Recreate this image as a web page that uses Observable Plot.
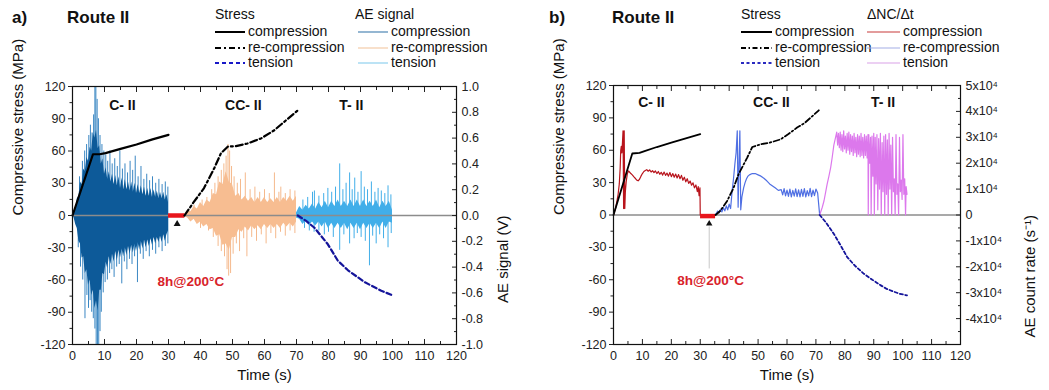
<!DOCTYPE html>
<html>
<head>
<meta charset="utf-8">
<script src="https://cdn.jsdelivr.net/npm/d3@7"></script>
<script src="https://cdn.jsdelivr.net/npm/@observablehq/plot@0.6"></script>
<style>
  html,body{margin:0;padding:0;background:#fff;}
  #wrap{position:relative;width:1049px;height:390px;overflow:hidden;font-family:"Liberation Sans",Arial,Helvetica,sans-serif;color:#111;}
  .t{position:absolute;white-space:nowrap;line-height:1;}
  .pl{font-size:17px;font-weight:bold;}
  .lg{font-size:14px;}
  .ls{position:absolute;}
  .chart{position:absolute;top:70px;}
  .chart svg{overflow:visible;}
</style>
</head>
<body>
<div id="wrap"></div>
<script>
// ---------------- data ----------------
const xMajor = [0,10,20,30,40,50,60,70,80,90,100,110,120];
const xMinor = [5,15,25,35,45,55,65,75,85,95,105,115];
const yMajor = [-120,-90,-60,-30,0,30,60,90,120];
const yMinor = [-105,-75,-45,-15,15,45,75,105];
const aeMajorV = [-1,-0.8,-0.6,-0.4,-0.2,0,0.2,0.4,0.6,0.8,1];
const aeMinorV = [-0.9,-0.7,-0.5,-0.3,-0.1,0.1,0.3,0.5,0.7,0.9];
const rateMajor = [-40000,-30000,-20000,-10000,0,10000,20000,30000,40000,50000];
const rateMinor = [-50000,-45000,-35000,-25000,-15000,-5000,5000,15000,25000,35000,45000];

// Panel a: stress (t, MPa)
const stressCompA = [[0,0],[6.4,57],[8.5,57],[10.3,58],[15,62],[20,66],[25,70.8],[30,75]];
const stressRecompA = [[35,0],[37.7,11.7],[41.1,25.5],[44.3,44],[46.4,58],[48.5,64],[51.1,64.6],[54.7,67],[58.9,71.7],[63.1,79.4],[67.3,90],[70.4,97.8]];
const stressTensA = [[70.4,0],[73,-5],[75.6,-11.4],[79.8,-26.8],[82.9,-42],[86.1,-51],[91.3,-62],[96.5,-70],[100.2,-74.5]];

// Panel a: AE signal envelopes (t, upper V, lower V)
const aeCompA = [[0,0,0],[0.5,0.03,-0.02],[1,0.05,-0.07],[1.5,0.13,-0.1],[2,0.15,-0.2],[2.5,0.26,-0.22],[3,0.24,-0.33],[3.5,0.36,-0.32],[4,0.34,-0.45],[4.5,0.45,-0.42],[5,0.42,-0.54],[5.5,0.53,-0.5],[6,0.5,-0.62],[6.5,0.64,-0.58],[7,0.6,-0.72],[7.5,0.66,-0.66],[8,0.52,-0.74],[8.5,0.54,-0.58],[9,0.4,-0.58],[9.5,0.44,-0.45],[10,0.32,-0.46],[10.5,0.37,-0.36],[11,0.28,-0.41],[11.5,0.34,-0.32],[12,0.26,-0.38],[12.5,0.32,-0.3],[13,0.24,-0.36],[13.5,0.31,-0.28],[14,0.23,-0.35],[14.5,0.3,-0.27],[15,0.21,-0.33],[15.5,0.29,-0.26],[16,0.2,-0.32],[16.5,0.28,-0.25],[17,0.2,-0.31],[17.5,0.26,-0.24],[18,0.19,-0.3],[18.5,0.26,-0.23],[19,0.18,-0.29],[19.5,0.25,-0.22],[20,0.17,-0.28],[20.5,0.24,-0.21],[21,0.17,-0.27],[21.5,0.23,-0.2],[22,0.16,-0.26],[22.5,0.22,-0.19],[23,0.15,-0.25],[23.5,0.21,-0.19],[24,0.15,-0.24],[24.5,0.21,-0.18],[25,0.14,-0.23],[25.5,0.2,-0.17],[26,0.14,-0.22],[26.5,0.19,-0.17],[27,0.13,-0.21],[27.5,0.18,-0.16],[28,0.13,-0.21],[28.5,0.18,-0.15],[29,0.12,-0.2],[29.5,0.16,-0.15],[30,0.1,-0.12]];
const aeCompASpikes = [[2.2,0.3],[3.1,0.42],[3.8,0.5],[4.4,0.55],[5.1,0.62],[5.6,0.7],[6.1,0.64],[6.6,0.78],[7.0,1.0],[7.3,1.0],[7.7,0.9],[8.1,0.75],[8.6,0.62],[9.2,0.55],[9.8,0.5],[10.4,0.47],[11.0,0.42],[11.7,0.5],[12.4,0.4],[13.2,0.44],[14.0,0.38],[14.8,0.5],[15.6,0.36],[16.4,0.4],[17.2,0.33],[18.0,0.42],[18.8,0.35],[19.6,0.46],[20.5,0.3],[21.4,0.38],[22.3,0.28],[23.2,0.32],[24.1,0.27],[25.0,0.3],[26.0,0.25],[27.0,0.28],[28.0,0.24],[29.0,0.26],[29.8,0.22],
  [1.8,-0.25],[2.5,-0.4],[3.2,-0.5],[3.9,-0.8],[4.5,-0.62],[5.0,-0.72],[5.5,-0.66],[6.0,-0.75],[6.5,-0.8],[7.0,-0.88],[7.4,-1.0],[7.8,-1.0],[8.2,-1.0],[8.6,-0.9],[9.0,-0.75],[9.6,-0.6],[10.2,-0.52],[10.9,-0.5],[11.6,-0.45],[12.3,-0.42],[13.0,-0.48],[13.8,-0.4],[14.6,-0.38],[15.4,-0.53],[16.2,-0.36],[17.0,-0.42],[17.8,-0.34],[18.6,-0.38],[19.4,-0.32],[20.3,-0.52],[21.2,-0.3],[22.1,-0.34],[23.0,-0.28],[24.0,-0.32],[25.0,-0.27],[26.0,-0.3],[27.0,-0.25],[28.0,-0.28],[29.0,-0.24],[29.8,-0.22]];
const aeRecompA = [[35,0.01,-0.01],[36,0.04,-0.02],[37,0.03,-0.05],[38,0.07,-0.03],[39,0.05,-0.07],[40,0.1,-0.05],[41,0.07,-0.09],[42,0.12,-0.07],[43,0.1,-0.11],[44,0.17,-0.1],[45,0.16,-0.16],[46,0.26,-0.15],[47,0.24,-0.23],[48,0.34,-0.22],[49,0.26,-0.27],[50,0.24,-0.17],[51,0.15,-0.17],[52,0.17,-0.11],[53,0.12,-0.13],[54,0.15,-0.09],[55,0.11,-0.12],[56,0.14,-0.08],[57,0.1,-0.11],[58,0.14,-0.08],[59,0.1,-0.11],[60,0.14,-0.07],[61,0.1,-0.1],[62,0.13,-0.07],[63,0.1,-0.1],[64,0.14,-0.07],[65,0.1,-0.1],[66,0.14,-0.06],[67,0.11,-0.09],[68,0.15,-0.06],[69,0.11,-0.09],[70,0.15,-0.05]];
const aeRecompASpikes = [[38,0.08],[40.5,0.12],[42,0.14],[43.5,0.2],[44.5,0.25],[45.5,0.3],[46.5,0.35],[47.3,0.4],[48.0,0.46],[48.6,0.55],[49.1,0.5],[49.7,0.38],[50.5,0.3],[51.5,0.25],[52.5,0.28],[54.0,0.33],[55.5,0.2],[57.0,0.22],[58.5,0.18],[60.0,0.2],[61.5,0.17],[63.1,0.33],[64.5,0.18],[65.1,0.22],[66.5,0.17],[68.0,0.2],[69.5,0.19],
  [40,-0.1],[42.5,-0.12],[44,-0.17],[45.5,-0.24],[46.5,-0.28],[47.5,-0.32],[48.3,-0.42],[48.8,-0.47],[49.4,-0.45],[50.2,-0.3],[51.2,-0.22],[52.2,-0.28],[53.5,-0.18],[54.5,-0.32],[56,-0.17],[57.5,-0.2],[59,-0.15],[60.5,-0.22],[62,-0.14],[63.5,-0.18],[65,-0.13],[66.5,-0.16],[68,-0.12],[69.5,-0.14]];
const aeTensA = [[70,0.02,-0.02],[71,0.07,-0.03],[72,0.04,-0.07],[73,0.08,-0.04],[74,0.05,-0.08],[75,0.09,-0.05],[76,0.05,-0.08],[77,0.1,-0.05],[78,0.06,-0.09],[79,0.11,-0.05],[80,0.06,-0.1],[81,0.11,-0.06],[82,0.07,-0.1],[83,0.12,-0.06],[84,0.07,-0.1],[85,0.11,-0.06],[86,0.07,-0.11],[87,0.12,-0.06],[88,0.07,-0.1],[89,0.12,-0.06],[90,0.07,-0.11],[91,0.12,-0.06],[92,0.07,-0.1],[93,0.11,-0.06],[94,0.07,-0.1],[95,0.12,-0.06],[96,0.06,-0.1],[97,0.11,-0.05],[98,0.07,-0.1],[99,0.11,-0.05],[100,0.04,-0.06]];
const aeTensASpikes = [[72,0.12],[73.5,0.14],[75,0.18],[75.6,0.19],[77,0.15],[78.5,0.17],[79.8,0.21],[81,0.18],[82.2,0.22],[83.5,0.4],[84.5,0.2],[85.5,0.25],[86.6,0.33],[87.4,0.2],[88.2,0.29],[89.2,0.18],[90.2,0.34],[91.2,0.22],[92.2,0.2],[93.4,0.26],[94.5,0.18],[95.5,0.21],[96.5,0.19],[97.6,0.17],[98.6,0.23],[99.5,0.16],
  [72.5,-0.1],[74,-0.12],[75.5,-0.13],[77,-0.12],[78.7,-0.15],[80,-0.13],[81.5,-0.17],[83.5,-0.27],[84.8,-0.15],[86.6,-0.22],[88,-0.18],[89,-0.14],[90.2,-0.17],[91.5,-0.2],[92.8,-0.39],[93.8,-0.16],[94.9,-0.22],[96,-0.15],[97.2,-0.18],[98.6,-0.25],[99.6,-0.14]];

// Panel b: stress (t, MPa)
const stressCompB = [[0,0],[6.5,57],[9,57.5],[11,59.5],[15,63],[20,67],[25,71],[30,75]];
const stressRecompB = [[35.3,0],[37,4],[39.3,13],[41.5,25],[43.3,38],[46.2,53],[48,63],[50.8,65.5],[54,67],[57.7,70],[60.5,75],[63.5,81],[66,85],[68.1,90],[71,97]];
const stressTensB = [[71.3,0],[73.5,-7],[76.2,-17.5],[78.5,-28],[80.8,-39],[83.5,-47],[86.6,-54.5],[89.5,-60],[92.3,-65],[94.5,-68.5],[96.9,-71],[99,-73],[101.5,-74.5]];

// Panel b: AE count rate (t, counts/s)
const rateCompB = [[0,0],[0.4,1500],[0.8,3000],[1.2,5500],[1.6,8000],[2.0,12000],[2.3,18000],[2.5,25000],[2.7,26500],[2.9,24000],[3.1,28000],[3.3,32500],[3.5,2500],[3.7,32500],[3.9,2500],[4.1,9000],[4.4,13000],[4.8,16000],[5.2,17000],[5.6,16500],[6.0,16000],[6.5,15500],[7.0,14800],[7.5,14200],[8.0,13500],[8.5,13200],[9.0,13800],[9.5,15000],[10.0,16000],[10.5,16800],[11.0,17200],[11.5,17500],[12,16900],[12.5,17400],[13,16600],[13.5,17100],[14,16400],[14.5,17000],[15,16000],[15.5,16800],[16,15700],[16.5,16500],[17,15400],[17.5,16600],[18,15300],[18.5,16200],[19,15000],[19.5,16400],[20,14800],[20.5,16000],[21,14600],[21.5,15800],[22,14300],[22.5,15600],[23,14000],[23.5,15300],[24,13400],[24.5,14600],[25,12800],[25.5,14000],[26,12200],[26.5,13100],[27,11500],[27.5,12400],[28,10500],[28.5,11600],[29,9000],[29.3,11000],[29.6,7500],[29.9,10500],[30.0,0]];
const rateRecompB = [[35,0],[35.5,500],[36,1500],[36.5,800],[37,2200],[37.5,1200],[38,2800],[38.5,1600],[39,3500],[39.5,2000],[40,4200],[40.5,2500],[41,9000],[41.5,14000],[42,20000],[42.4,24000],[42.8,32500],[43.1,3000],[43.4,20000],[43.7,32500],[44.0,2000],[44.4,7000],[45,10500],[45.5,12500],[46,14000],[46.5,15000],[47,15500],[48,16000],[49,16000],[50,15500],[51,15000],[52,14200],[53,13200],[54,12000],[55,11200],[56,10400],[57,9500],[58,9800],[58.5,7800],[59,10200],[59.5,7400],[60,9600],[60.5,7200],[61,10000],[61.5,7000],[62,9500],[62.5,7300],[63,10100],[63.5,7100],[64,9700],[64.5,7000],[65,9900],[65.5,7200],[66,10200],[66.5,7000],[67,9400],[67.5,7400],[68,10300],[68.5,7100],[69,9600],[69.5,7500],[70,10000],[70.6,8500],[71.3,0]];
const rateTensB = [[71.3,0],[72.2,3000],[72.8,5500],[73.4,9000],[73.9,12000],[74.5,15000],[75.1,18300],[75.6,22000],[76.2,27000],[76.7,29500],[77.2,32000],[77.5,27000],[77.8,31500],[78.1,26000],[78.4,32000],[78.7,25000],[79,31000],[79.3,24500],[79.6,32500],[79.9,25500],[80.2,30500],[80.5,24000],[80.8,31500],[81.1,25000],[81.4,32000],[81.7,23500],[82,31000],[82.3,24500],[82.6,30500],[82.9,23000],[83.2,31500],[83.5,24000],[83.8,30000],[84.1,22500],[84.4,31000],[84.7,23500],[85,30500],[85.3,22500],[85.6,31500],[85.9,23000],[86.2,30000],[86.5,22000],[86.8,31000],[87.1,23000],[87.4,30500],[87.7,22000],[88,31000],[88.1,0],[88.3,31000],[88.6,20000],[88.9,30000],[89.1,0],[89.4,30500],[89.7,15000],[90,31500],[90.2,0],[90.5,30000],[90.8,12000],[91.1,31000],[91.4,2000],[91.7,29500],[92,10000],[92.3,31500],[92.6,0],[92.9,28000],[93.2,9000],[93.5,30500],[93.8,0],[94.1,31000],[94.4,8000],[94.7,29000],[95,0],[95.3,31500],[95.6,10000],[95.9,27000],[96.2,0],[96.5,30000],[96.8,9000],[97.1,14000],[97.4,0],[97.7,31000],[98,8000],[98.3,12000],[98.6,0],[98.9,30000],[99.2,9000],[99.5,13500],[99.8,6000],[100.1,31000],[100.4,8000],[100.7,14000],[101,0],[101.2,11000],[101.5,8000]];

// annotations
const segLabelsA = [["C- II",15.6,102],["CC- II",53.4,102],["T- II",87.1,102]];
const segLabelsB = [["C- II",13.1,104],["CC- II",54.6,104],["T- II",93.2,104]];
const heatA = [[30,35.1,0]];
const heatB = [[30.1,35.3,-1]];
const heatTextA = [["8h@200°C",37,-62]];
const heatTextB = [["8h@200°C",33.6,-61]];
const arrowA = [[32.7,-8]];
const arrowB = [[33.1,-8]];
const guideB = [[33.1,-11,-50]];

const V2MPA = 120;          // 1 V  <-> 120 MPa
const RATE2MPA = 120/50000; // 5x10^4 s^-1 <-> 120 MPa
const FONT = '"Liberation Sans", Arial, Helvetica, sans-serif';

// ---------------- helpers ----------------
const X = d => d[0], Y = d => d[1];
function frameAxes(rightMajor, rightMinor, rightFmt) {
  return [
    Plot.axisX({anchor:"bottom", ticks:xMajor, tickSize:-5, tickPadding:12, tickFormat:d=>String(d), label:null}),
    Plot.axisX({anchor:"bottom", ticks:xMinor, tickSize:-3, tickFormat:()=>"", label:null}),
    Plot.axisX({anchor:"top", ticks:xMajor, tickSize:-5, tickFormat:()=>"", label:null}),
    Plot.axisX({anchor:"top", ticks:xMinor, tickSize:-3, tickFormat:()=>"", label:null}),
    Plot.axisY({anchor:"left", ticks:yMajor, tickSize:4, tickPadding:3, tickFormat:d=>String(d), label:null}),
    Plot.axisY({anchor:"left", ticks:yMinor, tickSize:2.5, tickFormat:()=>"", label:null}),
    Plot.axisY({anchor:"right", ticks:rightMajor, tickSize:-5, tickPadding:10, tickFormat:rightFmt, textAnchor:"start", label:null}),
    Plot.axisY({anchor:"right", ticks:rightMinor, tickSize:-3, tickFormat:()=>"", label:null}),
    Plot.frame({stroke:"#111", strokeWidth:1.2})
  ];
}

// ---------------- panel a ----------------
const plotA = Plot.plot({
  width:524, height:320,
  marginTop:16, marginBottom:46, marginLeft:72, marginRight:68,
  x:{domain:[0,120]}, y:{domain:[-120,120]},
  style:{fontFamily:FONT, fontSize:"12.5px", color:"#222", background:"transparent"},
  marks:[
    Plot.ruleX(aeCompASpikes, {x:X, y1:0, y2:d=>d[1]*V2MPA, stroke:"#3b87c3", strokeWidth:1, clip:true}),
    Plot.areaY(aeCompA, {x:X, y1:d=>d[2]*V2MPA, y2:d=>d[1]*V2MPA, fill:"#0d5a99", curve:"linear"}),
    Plot.ruleX(aeRecompASpikes, {x:X, y1:0, y2:d=>d[1]*V2MPA, stroke:"#f5b98c", strokeWidth:1}),
    Plot.areaY(aeRecompA, {x:X, y1:d=>d[2]*V2MPA, y2:d=>d[1]*V2MPA, fill:"#f7bd91", curve:"linear"}),
    Plot.ruleX(aeTensASpikes, {x:X, y1:0, y2:d=>d[1]*V2MPA, stroke:"#41aee9", strokeWidth:1}),
    Plot.areaY(aeTensA, {x:X, y1:d=>d[2]*V2MPA, y2:d=>d[1]*V2MPA, fill:"#41aee9", curve:"linear"}),
    Plot.ruleY([0], {stroke:"#8c8c8c", strokeWidth:1.5}),
    Plot.ruleY(heatA, {x1:d=>d[0], x2:d=>d[1], y:d=>d[2], stroke:"#e8161c", strokeWidth:4.5}),
    Plot.dot(arrowA, {x:X, y:Y, symbol:"triangle", r:2.6, fill:"#111"}),
    Plot.line(stressCompA, {x:X, y:Y, stroke:"#000", strokeWidth:2.2}),
    Plot.line(stressRecompA, {x:X, y:Y, stroke:"#000", strokeWidth:2.2, strokeDasharray:"7,3,2,3"}),
    Plot.line(stressTensA, {x:X, y:Y, stroke:"#14149a", strokeWidth:2.2, strokeDasharray:"5,3"}),
    Plot.text(segLabelsA, {x:d=>d[1], y:d=>d[2], text:d=>d[0], fontWeight:"bold", fontSize:14, fill:"#111"}),
    Plot.text(heatTextA, {x:d=>d[1], y:d=>d[2], text:d=>d[0], fontWeight:"bold", fontSize:13.5, fill:"#d8232a"}),
    ...frameAxes(aeMajorV.map(v=>v*V2MPA), aeMinorV.map(v=>v*V2MPA), d=>(d/V2MPA).toFixed(1)),
    Plot.text(["Compressive stress (MPa)"], {frameAnchor:"left", dx:-54, rotate:-90, text:d=>d, fontSize:15, fill:"#111"}),
    Plot.text(["AE signal (V)"], {frameAnchor:"right", dx:47, rotate:-90, text:d=>d, fontSize:15, fill:"#111"}),
    Plot.text(["Time (s)"], {frameAnchor:"bottom", dy:35, text:d=>d, fontSize:15, fill:"#111"})
  ]
});

// ---------------- panel b ----------------
const rateFmt = d => {
  const k = Math.round(d / RATE2MPA / 10000);
  if (k === 0) return "0";
  return (k < 0 ? "-" : "") + Math.abs(k) + "x10⁴";
};
const plotB = Plot.plot({
  width:525, height:320,
  marginTop:15, marginBottom:46, marginLeft:89, marginRight:89,
  x:{domain:[0,120]}, y:{domain:[-120,120]},
  style:{fontFamily:FONT, fontSize:"12.5px", color:"#222", background:"transparent"},
  marks:[
    Plot.ruleY([0], {stroke:"#8c8c8c", strokeWidth:1.5}),
    Plot.line(rateCompB, {x:X, y:d=>d[1]*RATE2MPA, stroke:"#b8141c", strokeWidth:1.2}),
    Plot.line(rateRecompB, {x:X, y:d=>d[1]*RATE2MPA, stroke:"#4f6fe3", strokeWidth:1.2}),
    Plot.line(rateTensB, {x:X, y:d=>d[1]*RATE2MPA, stroke:"#dc78ec", strokeWidth:1.2}),
    Plot.ruleY(heatB, {x1:d=>d[0], x2:d=>d[1], y:d=>d[2], stroke:"#e8161c", strokeWidth:4.5}),
    Plot.ruleX(guideB, {x:X, y1:d=>d[1], y2:d=>d[2], stroke:"#c8c8c8", strokeWidth:1}),
    Plot.dot(arrowB, {x:X, y:Y, symbol:"triangle", r:2.4, fill:"#111"}),
    Plot.line(stressCompB, {x:X, y:Y, stroke:"#000", strokeWidth:1.8}),
    Plot.line(stressRecompB, {x:X, y:Y, stroke:"#000", strokeWidth:1.8, strokeDasharray:"6,2.5,1.5,2.5"}),
    Plot.line(stressTensB, {x:X, y:Y, stroke:"#14149a", strokeWidth:1.8, strokeDasharray:"3,2.5"}),
    Plot.text(segLabelsB, {x:d=>d[1], y:d=>d[2], text:d=>d[0], fontWeight:"bold", fontSize:14, fill:"#111"}),
    Plot.text(heatTextB, {x:d=>d[1], y:d=>d[2], text:d=>d[0], fontWeight:"bold", fontSize:13.5, fill:"#d8232a"}),
    ...frameAxes(rateMajor.map(v=>v*RATE2MPA), rateMinor.map(v=>v*RATE2MPA), rateFmt),
    Plot.text(["Compressive stress (MPa)"], {frameAnchor:"left", dx:-54, rotate:-90, text:d=>d, fontSize:15, fill:"#111"}),
    Plot.text(["AE count rate (s⁻¹)"], {frameAnchor:"right", dx:70, rotate:-90, text:d=>d, fontSize:15, fill:"#111"}),
    Plot.text(["Time (s)"], {frameAnchor:"bottom", dy:35, text:d=>d, fontSize:15, fill:"#111"})
  ]
});

// ---------------- layout ----------------
const wrap = document.getElementById("wrap");
function addText(txt, left, cy, cls) {
  const el = document.createElement("div");
  el.className = "t " + cls;
  el.textContent = txt;
  const fs = cls === "pl" ? 17 : 14;
  el.style.left = left + "px";
  el.style.top = (cy - fs * 0.55) + "px";
  wrap.appendChild(el);
}
function addSample(x0, x1, cy, color, width, dash) {
  const ns = "http://www.w3.org/2000/svg";
  const s = document.createElementNS(ns, "svg");
  s.setAttribute("class", "ls");
  s.setAttribute("width", x1 - x0);
  s.setAttribute("height", 10);
  s.style.left = x0 + "px";
  s.style.top = (cy - 5) + "px";
  const l = document.createElementNS(ns, "line");
  l.setAttribute("x1", 0); l.setAttribute("x2", x1 - x0);
  l.setAttribute("y1", 5); l.setAttribute("y2", 5);
  l.setAttribute("stroke", color);
  l.setAttribute("stroke-width", width);
  if (dash) l.setAttribute("stroke-dasharray", dash);
  s.appendChild(l);
  wrap.appendChild(s);
}

const legendRowsY = [32, 47.5, 63];
const stressNames = ["compression", "re-compression", "tension"];
const stressStylesA = [["#000", 2, null], ["#000", 2, "6,3,2,3"], ["#1818c8", 2, "4,3"]];
const aeColorsA = ["#4e86b4", "#f4cba8", "#8fd0ee"];
const stressStylesB = [["#000", 2, null], ["#000", 2, "5,2.5,1.5,2.5"], ["#2a2ac0", 2, "3,2.5"]];
const aeColorsB = ["#c83a3a", "#a3aee6", "#d9a2e8"];

// panel a header
addText("a)", 12, 18, "pl");
addText("Route II", 67, 18, "pl");
addText("Stress", 215, 15, "lg");
addText("AE signal", 355, 15, "lg");
legendRowsY.forEach((cy, i) => {
  const st = stressStylesA[i];
  addSample(215, 245, cy, st[0], st[1], st[2]);
  addText(stressNames[i], 248, cy, "lg");
  addSample(358, 388, cy, aeColorsA[i], 1.2, null);
  addText(stressNames[i], 391, cy, "lg");
});
// panel b header
addText("b)", 549, 18, "pl");
addText("Route II", 612, 18, "pl");
addText("Stress", 741, 15, "lg");
addText("ΔNC/Δt", 867, 15, "lg");
legendRowsY.forEach((cy, i) => {
  const st = stressStylesB[i];
  addSample(741, 772, cy, st[0], st[1], st[2]);
  addText(stressNames[i], 775, cy, "lg");
  addSample(867, 900, cy, aeColorsB[i], 1.2, null);
  addText(stressNames[i], 903, cy, "lg");
});

const ca = document.createElement("div");
ca.className = "chart"; ca.style.left = "0px";
ca.appendChild(plotA);
wrap.appendChild(ca);
const cb = document.createElement("div");
cb.className = "chart"; cb.style.left = "524px";
cb.appendChild(plotB);
wrap.appendChild(cb);
</script>
</body>
</html>
